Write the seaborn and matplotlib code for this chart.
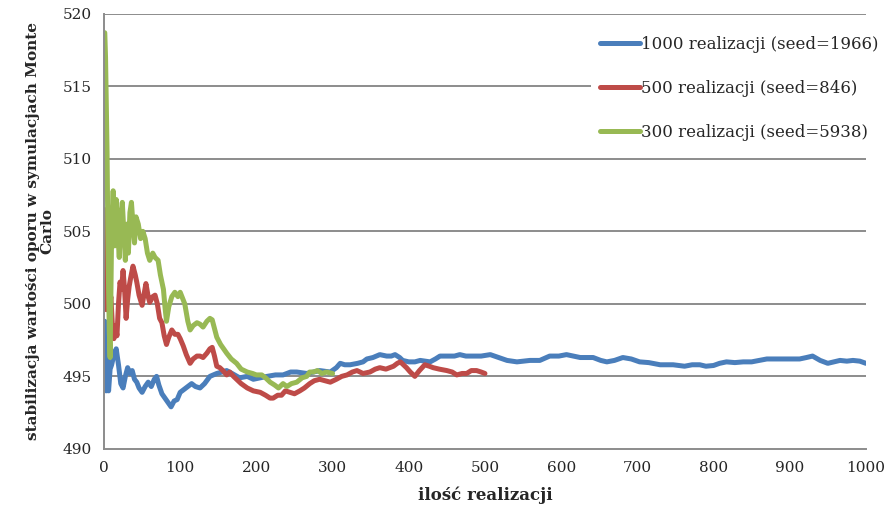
import numpy as np
import pandas as pd
import matplotlib
matplotlib.use("Agg")
import matplotlib.pyplot as plt
import seaborn as sns

# Running mean of resistance for three Monte Carlo runs (x = number of realizations)
x_1000 = [1, 2, 3, 4, 5, 6, 8, 10, 13, 16, 19, 22, 25, 28, 31, 34, 37, 40, 43, 46,
          50, 54, 58, 62, 66, 69, 72, 76, 80, 84, 88, 92, 96, 100, 105, 110, 115,
          120, 126, 132, 139, 148, 155, 161, 168, 178, 188, 196, 205, 214, 225,
          235, 245, 253, 266, 275, 283, 297, 305, 310, 316, 323, 333, 340, 345,
          353, 362, 371, 377, 382, 388, 392, 400, 408, 415, 428, 435, 441, 450,
          460, 467, 475, 484, 495, 507, 518, 529, 542, 559, 572, 585, 597, 607,
          616, 625, 642, 652, 660, 670, 681, 692, 703, 715, 730, 747, 762, 772,
          782, 790, 800, 808, 817, 828, 839, 850, 860, 870, 885, 896, 905, 913,
          922, 930, 940, 950, 958, 966, 975, 983, 992, 1000]
y_1000 = [498.8, 496.0, 494.0, 496.2, 495.0, 494.0, 495.5, 495.8, 496.5, 496.9,
          495.8, 494.5, 494.2, 495.0, 495.6, 495.2, 495.4, 494.8, 494.6, 494.2,
          493.9, 494.3, 494.6, 494.3, 494.8, 495.0, 494.4, 493.8, 493.5, 493.2,
          492.9, 493.3, 493.4, 493.9, 494.1, 494.3, 494.5, 494.3, 494.2, 494.5,
          495.0, 495.2, 495.3, 495.4, 495.2, 494.9, 495.0, 494.8, 494.9, 495.0,
          495.1, 495.1, 495.3, 495.3, 495.2, 495.3, 495.4, 495.3, 495.6, 495.9,
          495.8, 495.8, 495.9, 496.0, 496.2, 496.3, 496.5, 496.4, 496.4, 496.5,
          496.3, 496.1, 496.0, 496.0, 496.1, 496.0, 496.2, 496.4, 496.4, 496.4,
          496.5, 496.4, 496.4, 496.4, 496.5, 496.3, 496.1, 496.0, 496.1, 496.1,
          496.4, 496.4, 496.5, 496.4, 496.3, 496.3, 496.1, 496.0, 496.1, 496.3,
          496.2, 496.0, 495.95, 495.8, 495.8, 495.7, 495.8, 495.8, 495.7, 495.75,
          495.9, 496.0, 495.95, 496.0, 496.0, 496.1, 496.2, 496.2, 496.2, 496.2,
          496.2, 496.3, 496.4, 496.1, 495.9, 496.0, 496.1, 496.05, 496.1, 496.05,
          495.9]

x_500 = [1, 2, 3, 4, 5, 7, 9, 11, 13, 15, 17, 19, 21, 23, 25, 27, 29, 31, 33, 35,
         38, 41, 43, 46, 50, 53, 55, 58, 60, 64, 67, 70, 73, 76, 79, 82, 85, 89,
         93, 97, 100, 104, 108, 113, 117, 122, 126, 130, 135, 139, 142, 145, 148,
         152, 156, 161, 165, 170, 174, 180, 188, 196, 205, 212, 218, 222, 228,
         233, 238, 244, 250, 257, 263, 270, 276, 283, 290, 297, 305, 312, 319,
         326, 332, 340, 349, 356, 362, 370, 380, 385, 389, 393, 397, 402, 408,
         414, 421, 427, 432, 440, 450, 457, 463, 470, 476, 482, 489, 495, 500]
y_500 = [506.5, 503.0, 499.6, 504.0, 501.0, 499.5, 500.5, 498.5, 497.6, 498.5,
         497.8, 500.0, 501.5, 501.0, 502.3, 501.0, 499.0, 500.3, 501.2, 501.8,
         502.6, 502.0, 501.5, 500.6, 499.9, 500.8, 501.4, 500.5, 500.1, 500.5,
         500.6, 500.0, 499.0, 498.7, 497.8, 497.2, 497.7, 498.2, 497.9, 497.9,
         497.6, 497.1, 496.5, 495.9, 496.2, 496.4, 496.4, 496.3, 496.6, 496.9,
         497.0, 496.4, 495.7, 495.6, 495.4, 495.1, 495.3, 495.0, 494.8, 494.5,
         494.2, 494.0, 493.9, 493.7, 493.5, 493.5, 493.7, 493.7, 494.0, 493.9,
         493.8, 494.0, 494.2, 494.5, 494.7, 494.8, 494.7, 494.6, 494.8, 495.0,
         495.1, 495.3, 495.4, 495.2, 495.3, 495.5, 495.6, 495.5, 495.7, 495.9,
         496.0, 495.8, 495.6, 495.3, 495.0, 495.4, 495.8, 495.7, 495.6, 495.5,
         495.4, 495.3, 495.1, 495.2, 495.2, 495.4, 495.4, 495.3, 495.2]

x_300 = [1, 2, 3, 4, 5, 6, 7, 8, 9, 10, 12, 14, 16, 18, 20, 22, 24, 26, 28, 30,
         32, 34, 36, 38, 40, 42, 45, 48, 51, 54, 57, 60, 64, 67, 71, 74, 78, 80,
         82, 85, 89, 93, 97, 100, 103, 106, 110, 113, 117, 122, 126, 130, 135,
         139, 142, 145, 148, 153, 157, 161, 167, 174, 180, 188, 195, 200, 207,
         212, 218, 224, 229, 235, 240, 246, 253, 260, 266, 270, 275, 280, 286,
         292, 300]
y_300 = [518.7, 517.0, 513.8, 510.5, 505.0, 501.0, 498.0, 496.3, 500.5, 505.0,
         507.8, 504.0, 507.2, 505.0, 503.2, 506.0, 507.0, 505.0, 503.0, 505.5,
         503.5, 506.3, 507.0, 505.5, 504.2, 506.0, 505.5, 504.5, 505.0, 504.5,
         503.5, 503.0, 503.5, 503.2, 503.0, 502.0, 501.0, 499.8, 498.8, 499.8,
         500.5, 500.8, 500.5, 500.8, 500.4, 500.0, 498.8, 498.2, 498.5, 498.7,
         498.6, 498.4, 498.8, 499.0, 498.9, 498.3, 497.7, 497.2, 496.9, 496.6,
         496.2, 495.9, 495.5, 495.3, 495.2, 495.1, 495.1, 494.9, 494.6, 494.4,
         494.2, 494.5, 494.3, 494.5, 494.6, 494.9, 495.0, 495.3, 495.3, 495.4,
         495.2, 495.3, 495.2]

series_labels = ["1000 realizacji (seed=1966)",
                 "500 realizacji (seed=846)",
                 "300 realizacji (seed=5938)"]
series_colors = ["#4A7EBB", "#BE4B48", "#98B954"]

x_ticks = [0, 100, 200, 300, 400, 500, 600, 700, 800, 900, 1000]
y_ticks = [490, 495, 500, 505, 510, 515, 520]

frames = []
for label, xs, ys in zip(series_labels,
                         [x_1000, x_500, x_300],
                         [y_1000, y_500, y_300]):
    frames.append(pd.DataFrame({"n": xs, "value": ys, "seria": label}))
df = pd.concat(frames, ignore_index=True)

sns.set_style("white")
plt.rcParams["font.family"] = ["DejaVu Serif"]

fig = plt.figure(figsize=(8.89, 5.13), dpi=100)
ax = fig.add_axes([0.117, 0.125, 0.857, 0.848])

grid_color = "#8C8C8C"
for yv in y_ticks[1:]:
    ax.axhline(yv, color=grid_color, lw=1.4, zorder=0)

sns.lineplot(data=df, x="n", y="value", hue="seria", hue_order=series_labels,
             palette=series_colors, linewidth=3.6, ax=ax, sort=False,
             estimator=None)

ax.set_xlim(0, 1000)
ax.set_ylim(490, 520)
ax.set_xticks(x_ticks)
ax.set_yticks(y_ticks)
ax.tick_params(axis="both", direction="out", length=5, width=1.2,
               color=grid_color, labelsize=11, pad=4)
for side in ["top", "right"]:
    ax.spines[side].set_visible(False)
for side in ["left", "bottom"]:
    ax.spines[side].set_color(grid_color)
    ax.spines[side].set_linewidth(1.4)

ax.set_xlabel("ilość realizacji", fontsize=12, fontweight="bold", labelpad=8)
ax.set_ylabel("stabilizacja wartości oporu w symulacjach Monte\nCarlo",
              fontsize=11, fontweight="bold", labelpad=6, linespacing=1.0)

leg = ax.legend(loc="upper right", bbox_to_anchor=(1.028, 0.968), fontsize=12,
                frameon=True, facecolor="white", edgecolor="none", framealpha=1,
                labelspacing=1.62, handlelength=2.4, handletextpad=0.1,
                borderpad=0.5, borderaxespad=0.0, title=None)
for line in leg.get_lines():
    line.set_linewidth(3.6)

fig.savefig("out.png", dpi=100)
